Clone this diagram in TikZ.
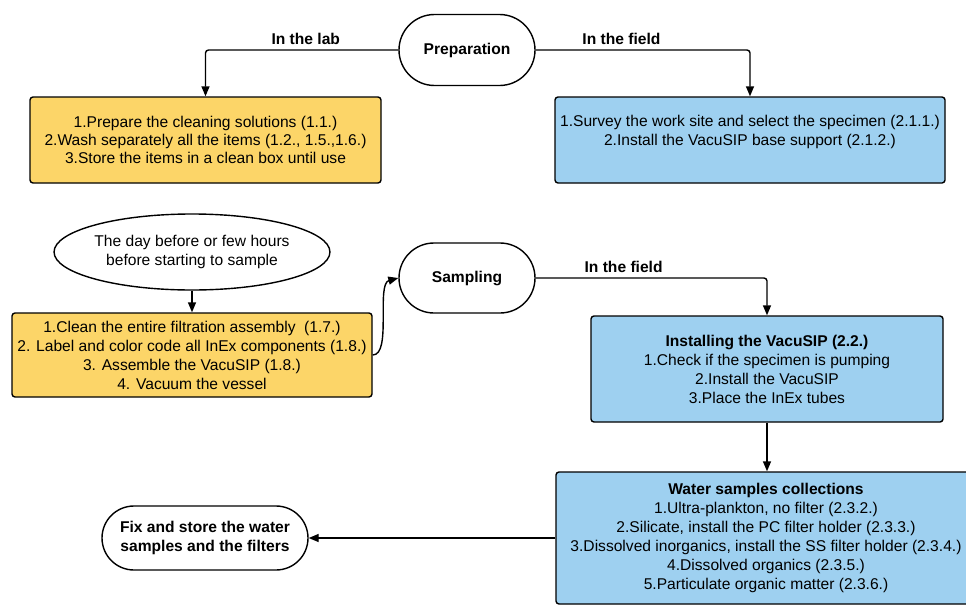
\documentclass[tikz,border=0pt]{standalone}
\usepackage{fontspec}
\setmainfont{Liberation Sans}
\usetikzlibrary{arrows.meta,positioning,shapes.geometric,shapes.misc}

\definecolor{labyellow}{RGB}{252,213,104}
\definecolor{fieldblue}{RGB}{158,208,240}
\newcommand\diagfont{\fontsize{15.6}{19}\selectfont}

\tikzset{
  stepbox/.style={draw, line width=1.4pt, rounded corners=3pt, align=center,
    inner sep=2pt, font=\diagfont},
  labbox/.style={stepbox, fill=labyellow},
  fieldbox/.style={stepbox, fill=fieldblue},
  terminal/.style={draw, line width=1.4pt, rounded rectangle, align=center,
    font=\diagfont\bfseries, inner sep=2pt},
  flow/.style={->, line width=1.4pt, rounded corners=3pt},
  where/.style={font=\diagfont\bfseries, above=1pt}
}

\begin{document}
\begin{tikzpicture}[x=1pt, y=-1pt, >={Triangle[length=10pt, width=8pt]}]
  \useasboundingbox (0,0) rectangle (966,605);

  % preparation
  \node[terminal, minimum width=140pt, minimum height=71pt] (prep) at (467,50) {Preparation};
  \node[labbox, minimum width=351pt, minimum height=86pt,
    font=\fontsize{15.6}{18}\selectfont] (lab) at (205.5,140)
    {1.Prepare the cleaning solutions (1.1.)\\
     2.Wash separately all the items (1.2., 1.5.,1.6.)\\
     3.Store the items in a clean box until use};
  \node[fieldbox, minimum width=390pt, minimum height=86pt] (site) at (750,140)
    {1.Survey the work site and select the specimen (2.1.1.)\\
     2.Install the VacuSIP base support (2.1.2.)\\ \mbox{}};
  \draw[flow] (prep.west) -| (lab.north) node[where, pos=0.24] {In the lab};
  \draw[flow] (prep.east) -| (site.north) node[where, pos=0.2] {In the field};

  % the day before
  \node[draw, line width=1.4pt, ellipse, inner sep=0pt, align=center, font=\diagfont,
    minimum width=248pt, minimum height=76pt] (day) at (192,252)
    {The day before or few hours\\ before starting to sample};
  \node[labbox, minimum width=360pt, minimum height=84pt] (assembly) at (192,355)
    {1.Clean the entire filtration assembly\ \ (1.7.)\\
     2. Label and color code all InEx components (1.8.)\\
     3. Assemble the VacuSIP (1.8.)\\
     4. Vacuum the vessel};
  \draw[flow] (day.south) -- (assembly.north);

  % sampling
  \node[terminal, minimum width=140pt, minimum height=70pt] (samp) at (467,278) {Sampling};
  \draw[->, line width=1.4pt] (assembly.east) .. controls (392,355) and (376,284) .. (samp.west);
  \node[fieldbox, minimum width=352pt, minimum height=106pt] (install) at (767,369)
    {\textbf{Installing the VacuSIP (2.2.)}\\
     1.Check if the specimen is pumping\\
     2.Install the VacuSIP\\
     3.Place the InEx tubes};
  \draw[flow] (samp.east) -| (install.north) node[where, pos=0.19] {In the field};

  \node[fieldbox, minimum width=420pt, minimum height=132pt] (water) at (766,538)
    {\textbf{Water samples collections}\\
     1.Ultra-plankton, no filter (2.3.2.)\\
     2.Silicate, install the PC filter holder (2.3.3.)\\
     3.Dissolved inorganics, install the SS filter holder (2.3.4.)\\
     4.Dissolved organics (2.3.5.)\\
     5.Particulate organic matter (2.3.6.)};
  \draw[flow] (install.south) -- (install.south |- water.north);

  \node[terminal, minimum width=210pt, minimum height=64pt] (store) at (205,538)
    {Fix and store the water\\ samples and the filters};
  \draw[flow] (water.west) -- (store.east);
\end{tikzpicture}
\end{document}
